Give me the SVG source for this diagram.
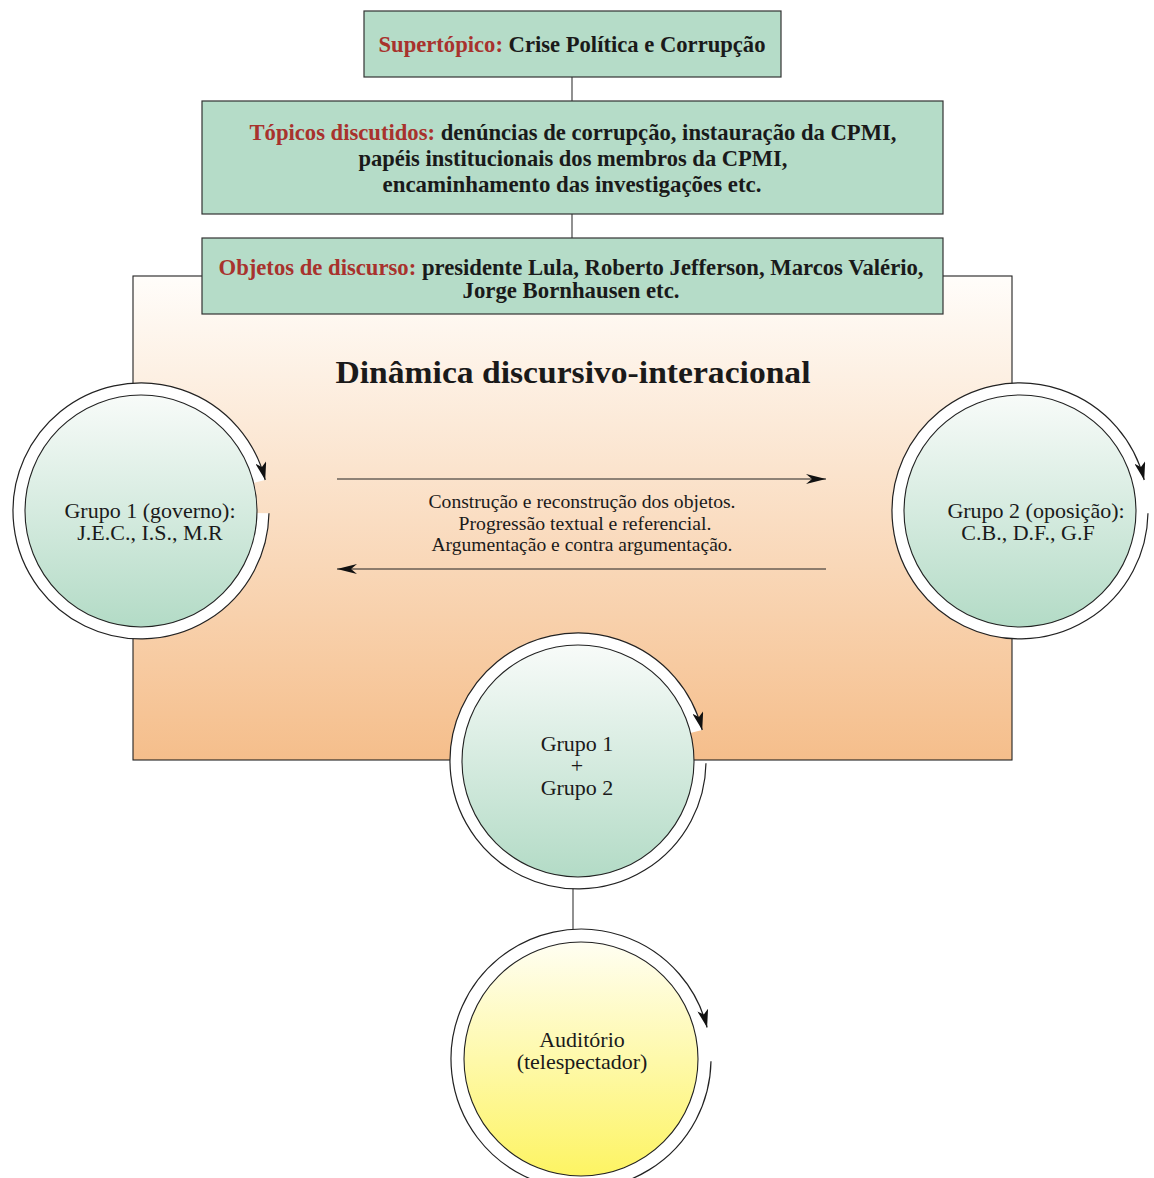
<svg xmlns="http://www.w3.org/2000/svg" width="1154" height="1178" viewBox="0 0 1154 1178">
<style>
.box{fill:#b5dcc8;stroke:#333;stroke-width:1.2}
.bt{font-family:"Liberation Serif","Times New Roman",serif;font-weight:bold;font-size:23px;fill:#1a1a1a;text-anchor:middle}
.red{fill:#a8322d}
.ct{font-family:"Liberation Serif","Times New Roman",serif;font-size:22px;fill:#1a1a1a;text-anchor:middle}
.mt{font-family:"Liberation Serif","Times New Roman",serif;font-size:18.5px;fill:#1a1a1a;text-anchor:middle}
.ring{fill:#fff;stroke:none}
.ringline{fill:none;stroke:#222;stroke-width:1.2}
.inner{stroke:#222;stroke-width:1.1}
.conn{stroke:#555;stroke-width:1.3;fill:none}
.harrow{stroke:#222;stroke-width:1.2;fill:none}
</style>
<defs>
<linearGradient id="gBg" x1="0" y1="0" x2="0" y2="1">
<stop offset="0" stop-color="#fffdfa"/>
<stop offset="1" stop-color="#f5be8b"/>
</linearGradient>
<linearGradient id="gGreen" x1="0" y1="0" x2="0" y2="1">
<stop offset="0" stop-color="#f8fbf9"/>
<stop offset="1" stop-color="#b3dbc6"/>
</linearGradient>
<linearGradient id="gYellow" x1="0" y1="0" x2="0" y2="1">
<stop offset="0" stop-color="#fffef2"/>
<stop offset="1" stop-color="#fdf463"/>
</linearGradient>
<marker id="mc" viewBox="0 0 18 11" markerWidth="18" markerHeight="11" refX="18" refY="5.5" orient="auto" markerUnits="userSpaceOnUse">
<path d="M0,0 L18,5.5 L0,11 L4.5,5.5 Z" fill="#111"/>
</marker>
<marker id="mh" viewBox="0 0 20 10" markerWidth="20" markerHeight="10" refX="20" refY="5" orient="auto" markerUnits="userSpaceOnUse">
<path d="M0,0 L20,5 L0,10 L6,5 Z" fill="#111"/>
</marker>
</defs>

<rect id="dinamica" x="133" y="276" width="879" height="484" fill="url(#gBg)" stroke="#222" stroke-width="1.1"/>

<g id="connectors">
<line class="conn" x1="572" y1="77" x2="572" y2="101"/>
<line class="conn" x1="572" y1="214" x2="572" y2="238"/>
<line class="conn" x1="573" y1="888" x2="573" y2="930"/>
<line class="harrow" x1="337" y1="479" x2="826" y2="479" marker-end="url(#mh)"/>
<line class="harrow" x1="826" y1="569" x2="337" y2="569" marker-end="url(#mh)"/>
</g>

<g id="supertopico">
<rect class="box" x="364" y="11" width="417" height="66"/>
<text class="bt" x="572" y="52" textLength="387" lengthAdjust="spacingAndGlyphs"><tspan class="red">Supertópico:</tspan> Crise Política e Corrupção</text>
</g>

<g id="topicos">
<rect class="box" x="202" y="101" width="741" height="113"/>
<text class="bt" x="573" y="140" textLength="647" lengthAdjust="spacingAndGlyphs"><tspan class="red">Tópicos discutidos:</tspan> denúncias de corrupção, instauração da CPMI,</text>
<text class="bt" x="573" y="166" textLength="429" lengthAdjust="spacingAndGlyphs">papéis institucionais dos membros da CPMI,</text>
<text class="bt" x="572" y="192" textLength="379" lengthAdjust="spacingAndGlyphs">encaminhamento das investigações etc.</text>
</g>

<g id="objetos">
<rect class="box" x="202" y="238" width="741" height="76"/>
<text class="bt" x="571" y="275" textLength="705" lengthAdjust="spacingAndGlyphs"><tspan class="red">Objetos de discurso:</tspan> presidente Lula, Roberto Jefferson, Marcos Valério,</text>
<text class="bt" x="571" y="298" textLength="217" lengthAdjust="spacingAndGlyphs">Jorge Bornhausen etc.</text>
</g>

<g id="titulo">
<text class="bt" x="573" y="383" style="font-size:32px" textLength="475" lengthAdjust="spacingAndGlyphs">Dinâmica discursivo-interacional</text>
</g>

<g id="processos">
<text class="mt" x="582" y="508" textLength="307" lengthAdjust="spacingAndGlyphs">Construção e reconstrução dos objetos.</text>
<text class="mt" x="585" y="530" textLength="253" lengthAdjust="spacingAndGlyphs">Progressão textual e referencial.</text>
<text class="mt" x="582" y="551" textLength="301" lengthAdjust="spacingAndGlyphs">Argumentação e contra argumentação.</text>
</g>

<g id="grupo1">
<path class="ring" d="M141,511 L268.98,513.23 A128,128 0 1 1 265.2,480 Z"/>
<path class="ringline" d="M268.98,513.23 A128,128 0 1 1 265.2,480" marker-end="url(#mc)"/>
<circle class="inner" cx="141" cy="511" r="116" fill="url(#gGreen)"/>
<text class="ct" x="150" y="518">Grupo 1 (governo):</text>
<text class="ct" x="150" y="540">J.E.C., I.S., M.R</text>
</g>

<g id="grupo2">
<path class="ring" d="M1020,511 L1147.98,513.23 A128,128 0 1 1 1144.2,480 Z"/>
<path class="ringline" d="M1147.98,513.23 A128,128 0 1 1 1144.2,480" marker-end="url(#mc)"/>
<circle class="inner" cx="1020" cy="511" r="116" fill="url(#gGreen)"/>
<text class="ct" x="1036" y="518">Grupo 2 (oposição):</text>
<text class="ct" x="1028" y="540">C.B., D.F., G.F</text>
</g>

<g id="grupo12">
<path class="ring" d="M578,761 L705.98,763.23 A128,128 0 1 1 702.2,730 Z"/>
<path class="ringline" d="M705.98,763.23 A128,128 0 1 1 702.2,730" marker-end="url(#mc)"/>
<circle class="inner" cx="578" cy="761" r="116" fill="url(#gGreen)"/>
<text class="ct" x="577" y="751">Grupo 1</text>
<text class="ct" x="577" y="773">+</text>
<text class="ct" x="577" y="795">Grupo 2</text>
</g>

<g id="auditorio">
<path class="ring" d="M581,1059 L710.98,1061.27 A130,130 0 1 1 707.1,1027.5 Z"/>
<path class="ringline" d="M710.98,1061.27 A130,130 0 1 1 707.1,1027.5" marker-end="url(#mc)"/>
<circle class="inner" cx="581" cy="1059" r="117" fill="url(#gYellow)"/>
<text class="ct" x="582" y="1047">Auditório</text>
<text class="ct" x="582" y="1069">(telespectador)</text>
</g>
</svg>
